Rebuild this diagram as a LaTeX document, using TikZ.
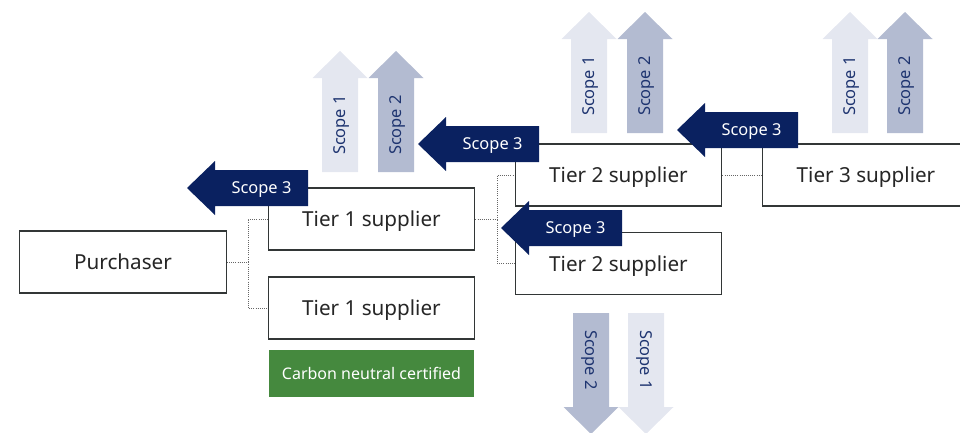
\documentclass[tikz,border=0pt]{standalone}
\usepackage{fontspec}
\setmainfont{Noto Sans}

\definecolor{scopedark}{RGB}{10,33,96}
\definecolor{scopeone}{RGB}{228,231,240}
\definecolor{scopetwo}{RGB}{179,187,209}
\definecolor{scopeink}{RGB}{30,52,112}
\definecolor{certgreen}{RGB}{69,137,62}
\definecolor{boxline}{RGB}{50,54,54}

\tikzset{
  party/.style={draw=boxline, line width=0.9pt, fill=white, text=black!85,
    minimum width=155pt, minimum height=46.5pt, inner sep=0pt, text depth=0pt,
    font=\fontsize{15.5}{18}\selectfont},
  certbox/.style={fill=certgreen, text=white, minimum width=154pt,
    minimum height=35pt, inner sep=0pt, font=\fontsize{12}{14}\selectfont},
  link/.style={draw=black!60, densely dotted, line width=0.6pt},
  scopetxt/.style={text=scopeink, inner sep=0pt, text depth=0pt,
    font=\fontsize{12.3}{14}\selectfont}
}

% left arrow: name, tip x, centre y, right x
\newcommand{\scopeleft}[4]{%
  \fill[scopedark] (#2,#3) -- (#2+28,#3-27) -- (#2+28,#3-18) -- (#4,#3-18)
    -- (#4,#3+18) -- (#2+28,#3+18) -- (#2+28,#3+27) -- cycle;
  \node[scopetxt, text=white] (#1) at ({(#2+28+#4)/2},#3) {Scope 3};
}
% up arrow: name, colour, left x, head base y, label
\newcommand{\scopeup}[5]{%
  \fill[#2] (#3,#4+94) -- (#3,#4) -- (#3-9.5,#4) -- (#3+18,#4-27)
    -- (#3+45.5,#4) -- (#3+36,#4) -- (#3+36,#4+94) -- cycle;
  \node[scopetxt, rotate=90] (#1) at (#3+18,#4+47) {#5};
}
% down arrow: name, colour, left x, top y, label
\newcommand{\scopedown}[5]{%
  \fill[#2] (#3,#4) -- (#3,#4+94) -- (#3-9.5,#4+94) -- (#3+18,#4+121)
    -- (#3+45.5,#4+94) -- (#3+36,#4+94) -- (#3+36,#4) -- cycle;
  \node[scopetxt, rotate=-90] (#1) at (#3+18,#4+47) {#5};
}

\begin{document}
\begin{tikzpicture}[x=0.75pt,y=-0.75pt]
  \useasboundingbox (0,0) rectangle (960,432);

  % supply chain boxes
  \node[party] (purchaser) at (123,262) {Purchaser};
  \node[party] (tier1a) at (371.5,219) {Tier 1 supplier};
  \node[party] (tier1b) at (371.5,308) {Tier 1 supplier};
  \node[certbox] (cert) at (371.5,373.5) {Carbon neutral certified};
  \node[party] (tier2a) at (618.5,175) {Tier 2 supplier};
  \node[party] (tier2b) at (618.5,263.5) {Tier 2 supplier};
  \node[party] (tier3) at (866,175) {Tier 3 supplier};

  \draw[link] (purchaser.east) -- ++(21,0) |- (tier1a.west);
  \draw[link] (purchaser.east) -- ++(21,0) |- (tier1b.west);
  \draw[link] (tier1a.east) -- ++(22,0) |- (tier2a.west);
  \draw[link] (tier1a.east) -- ++(22,0) |- (tier2b.west);
  \draw[link] (tier2a.east) -- (tier3.west);

  % scope 3 arrows
  \scopeleft{sthree1}{187}{188}{308}
  \scopeleft{sthree2}{418}{144}{539}
  \scopeleft{sthree3}{677}{130}{798}
  \scopeleft{sthree4}{501}{228}{622}

  % scope 1 and 2 arrows
  \scopeup{sone1}{scopeone}{322}{78}{Scope 1}
  \scopeup{stwo1}{scopetwo}{378}{78}{Scope 2}
  \scopeup{sone2}{scopeone}{571}{39}{Scope 1}
  \scopeup{stwo2}{scopetwo}{627}{39}{Scope 2}
  \scopeup{sone3}{scopeone}{832}{39}{Scope 1}
  \scopeup{stwo3}{scopetwo}{887}{39}{Scope 2}
  \scopedown{stwo4}{scopetwo}{573}{313}{Scope 2}
  \scopedown{sone4}{scopeone}{628}{313}{Scope 1}

\end{tikzpicture}
\end{document}
